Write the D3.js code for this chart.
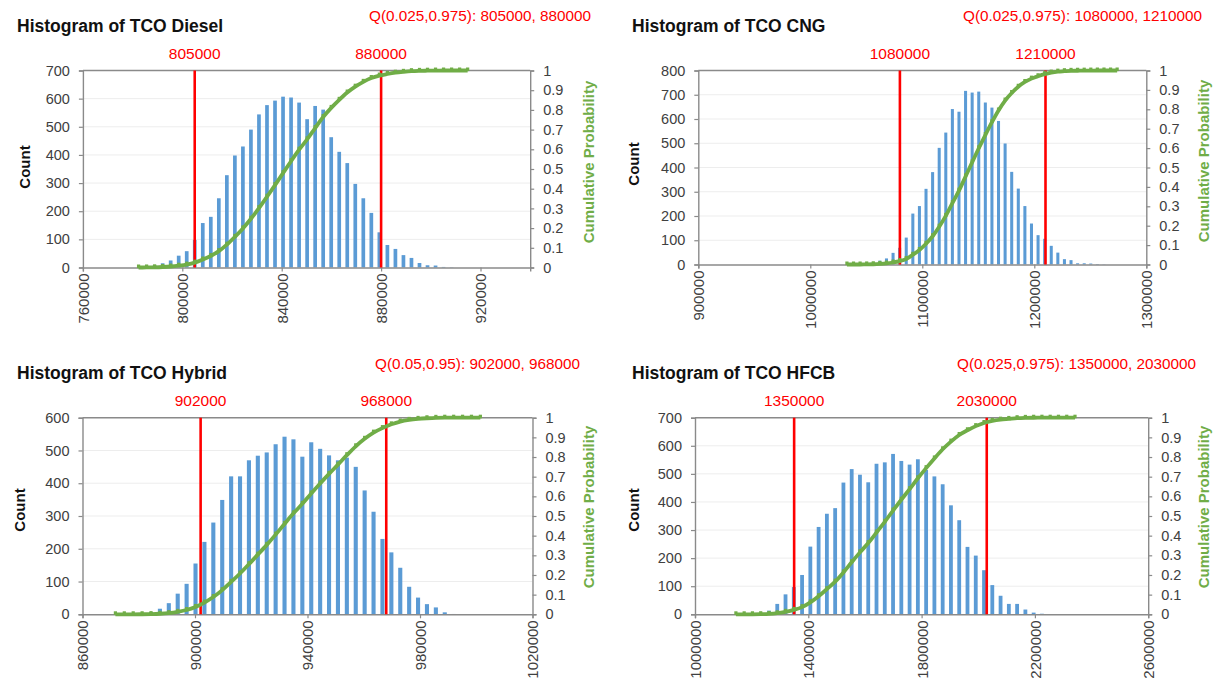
<!DOCTYPE html>
<html><head><meta charset="utf-8">
<script src="https://cdn.jsdelivr.net/npm/d3@7"></script>
<style>body{margin:0;background:#fff}svg{display:block}</style>
</head><body>
<svg id="c" width="1221" height="689"></svg>
<script>
// ---------- DATA ----------
const titles = ["Histogram of TCO Diesel", "Histogram of TCO CNG", "Histogram of TCO Hybrid", "Histogram of TCO HFCB"];
const quantileProbs = [["0.025","0.975"], ["0.025","0.975"], ["0.05","0.95"], ["0.025","0.975"]];
const dieselQ = [805000, 880000];
const cngQ = [1080000, 1210000];
const hybridQ = [902000, 968000];
const hfcbQ = [1350000, 2030000];

// bin centre of the first bin and bin width for each histogram
const dieselBin = [782400, 3230];
const cngBin = [1032700, 5885];
const hybridBin = [871700, 3165];
const hfcbBin = [1144400, 29200];

const dieselCounts = [0,2,8,15,25,42,58,98,158,180,246,328,398,430,490,544,577,593,607,604,586,527,574,561,463,411,371,297,246,194,125,80,66,44,34,16,8,7,2,1,0,0];
const cngCounts = [0,0,1,3,8,16,25,48,69,111,210,241,312,381,481,544,641,630,716,709,713,668,647,592,499,382,313,241,169,121,106,77,49,22,18,5,5,4,2,1,0,0];
const hybridCounts = [0,0,1,2,7,17,34,63,93,155,221,280,349,421,421,470,484,494,519,542,534,481,525,505,485,470,478,450,378,313,230,189,142,84,51,31,21,6,1,0,0,0];
const hfcbCounts = [0,0,1,4,13,37,71,97,140,241,311,358,378,469,517,497,470,536,541,571,546,533,552,514,491,463,388,335,240,209,157,104,66,37,37,17,6,2,0,0,0,0];

const dieselXTicks = [760000, 800000, 840000, 880000, 920000];
const cngXTicks = [900000, 1000000, 1100000, 1200000, 1300000];
const hybridXTicks = [860000, 900000, 940000, 980000, 1020000];
const hfcbXTicks = [1000000, 1400000, 1800000, 2200000, 2600000];
const dieselXDomain = [760000, 940000];
const cngXDomain = [900000, 1300000];
const hybridXDomain = [860000, 1020000];
const hfcbXDomain = [1000000, 2600000];

const dieselYTicks = [0,100,200,300,400,500,600,700];
const cngYTicks = [0,100,200,300,400,500,600,700,800];
const hybridYTicks = [0,100,200,300,400,500,600];
const hfcbYTicks = [0,100,200,300,400,500,600,700];
const probTicks = [0,0.1,0.2,0.3,0.4,0.5,0.6,0.7,0.8,0.9,1];

const countLabel = "Count";
const cumLabel = "Cumulative Probability";

// ---------- PANELS ----------
const panels = [
  {title: titles[0], qp: quantileProbs[0], q: dieselQ, bin: dieselBin, counts: dieselCounts, xTicks: dieselXTicks, xDomain: dieselXDomain, yTicks: dieselYTicks},
  {title: titles[1], qp: quantileProbs[1], q: cngQ, bin: cngBin, counts: cngCounts, xTicks: cngXTicks, xDomain: cngXDomain, yTicks: cngYTicks},
  {title: titles[2], qp: quantileProbs[2], q: hybridQ, bin: hybridBin, counts: hybridCounts, xTicks: hybridXTicks, xDomain: hybridXDomain, yTicks: hybridYTicks},
  {title: titles[3], qp: quantileProbs[3], q: hfcbQ, bin: hfcbBin, counts: hfcbCounts, xTicks: hfcbXTicks, xDomain: hfcbXDomain, yTicks: hfcbYTicks}
];

const layouts = [
  {left:82.9, right:530.2, top:70.5, bottom:267.5, titleX:17, titleY:32, qX:591, qY:21, labY:58.5, countX:25, countY:167, cumX:589, cumY:162},
  {left:698.3, right:1146.3, top:70.5, bottom:264.5, titleX:632, titleY:32, qX:1202, qY:21, labY:59, countX:634, countY:164, cumX:1204, cumY:161},
  {left:82.5, right:532.5, top:417.7, bottom:614.3, titleX:17, titleY:379, qX:580, qY:369, labY:406, countX:20, countY:510, cumX:589, cumY:507},
  {left:695, right:1148.2, top:417.7, bottom:614.3, titleX:632, titleY:379, qX:1196, qY:369, labY:406, countX:634, countY:510, cumX:1204, cumY:507}
];

const FONT = "'Liberation Sans', Arial, Helvetica, sans-serif";
const BLUE = "#5B9BD5", GREEN = "#70AD47", RED = "#FF0000", AXIS = "#8a8a8a", TXT = "#404040";
const svg = d3.select("#c");

panels.forEach((p, k) => {
  const L = layouts[k];
  const g = svg.append("g").attr("font-family", FONT);
  const yMax = p.yTicks[p.yTicks.length - 1];
  const x = d3.scaleLinear().domain(p.xDomain).range([L.left, L.right]);
  const y = d3.scaleLinear().domain([0, yMax]).range([L.bottom, L.top]);
  const y2 = d3.scaleLinear().domain([0, 1]).range([L.bottom, L.top]);

  const centers = p.counts.map((c, i) => p.bin[0] + i * p.bin[1]);
  const total = d3.sum(p.counts);
  const cum = Array.from(d3.cumsum(p.counts), v => v / total);

  // gridlines
  g.append("g").selectAll("line").data(p.yTicks.filter(v => v > 0)).join("line")
    .attr("x1", L.left).attr("x2", L.right)
    .attr("y1", d => y(d)).attr("y2", d => y(d))
    .attr("stroke", "#ededed").attr("stroke-width", 1);

  // bars
  const bw = (x(p.bin[0] + p.bin[1]) - x(p.bin[0])) * 0.46;
  g.append("g").selectAll("rect").data(p.counts.map((c, i) => ({c, x: centers[i]})).filter(d => d.c > 0)).join("rect")
    .attr("x", d => x(d.x) - bw / 2).attr("width", bw)
    .attr("y", d => y(d.c)).attr("height", d => L.bottom - y(d.c))
    .attr("fill", BLUE);

  // axes
  const ax = g.append("g").attr("transform", `translate(${L.left},0)`)
    .call(d3.axisLeft(y).tickValues(p.yTicks).tickSize(4).tickPadding(9).tickFormat(d => String(d)));
  const ar = g.append("g").attr("transform", `translate(${L.right},0)`)
    .call(d3.axisRight(y2).tickValues(probTicks).tickSize(4).tickPadding(9).tickFormat(d => String(d)));
  const ab = g.append("g").attr("transform", `translate(0,${L.bottom})`)
    .call(d3.axisBottom(x).tickValues(p.xTicks).tickSize(4).tickFormat(d => String(d)));
  ab.selectAll("text").attr("transform", "rotate(-90)").attr("text-anchor", "end")
    .attr("x", -6).attr("y", 0).attr("dy", "0.36em");
  [ax, ar, ab].forEach(a => {
    a.select(".domain").attr("stroke", AXIS).attr("stroke-width", 1.4);
    a.selectAll(".tick line").attr("stroke", AXIS).attr("stroke-width", 1.2);
    a.selectAll("text").attr("fill", TXT).attr("font-size", 14.5).attr("font-family", FONT);
  });
  ab.selectAll("text").attr("font-size", 15);
  // top frame
  g.append("line").attr("x1", L.left).attr("x2", L.right).attr("y1", L.top).attr("y2", L.top)
    .attr("stroke", AXIS).attr("stroke-width", 1.4);

  // quantile lines
  g.append("g").selectAll("line").data(p.q).join("line")
    .attr("x1", d => x(d)).attr("x2", d => x(d)).attr("y1", L.top).attr("y2", L.bottom)
    .attr("stroke", RED).attr("stroke-width", 2.6);
  g.append("g").selectAll("text").data(p.q).join("text")
    .attr("x", d => x(d)).attr("y", L.labY).attr("text-anchor", "middle")
    .attr("fill", RED).attr("font-size", 15.5).text(d => String(d));

  // cumulative line
  const line = d3.line().x((d, i) => x(centers[i])).y(d => y2(d)).curve(d3.curveMonotoneX);
  g.append("path").datum(cum).attr("d", line).attr("fill", "none")
    .attr("stroke", GREEN).attr("stroke-width", 3.8).attr("stroke-linejoin", "round");
  g.append("g").selectAll("rect").data(cum).join("rect")
    .attr("x", (d, i) => x(centers[i]) - 1.6).attr("y", d => y2(d) - 3)
    .attr("width", 3.2).attr("height", 3.6).attr("fill", GREEN);

  // titles
  g.append("text").attr("x", L.titleX).attr("y", L.titleY).attr("font-weight", "bold")
    .attr("font-size", 17.5).attr("fill", "#111").text(p.title);
  g.append("text").attr("x", L.qX).attr("y", L.qY).attr("text-anchor", "end")
    .attr("font-size", 15.3).attr("fill", RED)
    .text(`Q(${p.qp[0]},${p.qp[1]}): ${p.q[0]}, ${p.q[1]}`);
  g.append("text").attr("transform", `translate(${L.countX},${L.countY}) rotate(-90)`)
    .attr("text-anchor", "middle").attr("dy", "0.35em").attr("font-weight", "bold")
    .attr("font-size", 15).attr("fill", "#111").text(countLabel);
  g.append("text").attr("transform", `translate(${L.cumX},${L.cumY}) rotate(-90)`)
    .attr("text-anchor", "middle").attr("dy", "0.35em").attr("font-weight", "bold")
    .attr("font-size", 15).attr("fill", GREEN).text(cumLabel);
});
</script>
</body></html>
